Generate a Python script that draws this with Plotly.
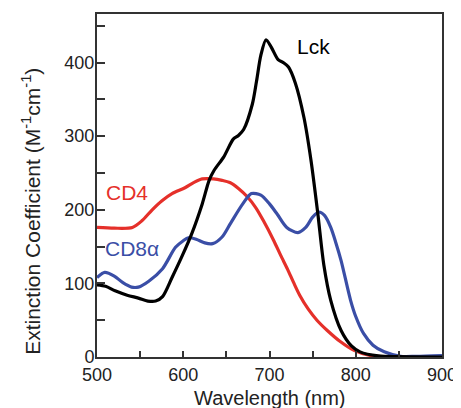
import plotly.graph_objects as go

# Lck (black)
lck_wl = [500, 510, 521, 535, 548, 559, 568, 576, 587, 599, 610, 622, 630, 636, 647, 658, 664, 670, 680, 685, 690, 696, 702, 710, 716, 722, 730, 740, 748, 756, 763, 771, 783, 795, 805, 826, 850, 900]
lck_val = [98, 96, 90, 84, 80, 76, 76, 82, 108, 138, 168, 208, 240, 254, 272, 296, 301, 309, 343, 375, 410, 431, 421, 404, 400, 394, 372, 325, 268, 195, 125, 77, 36, 15, 7, 1.5, 0.5, 0]

# CD4 (red)
cd4_wl = [500, 520, 541, 552, 564, 575, 587, 602, 612, 622, 635, 645, 654, 664, 674, 684, 693, 705, 713, 721, 728, 735, 745, 755, 767, 782, 798, 817, 840, 900]
cd4_val = [176, 175, 176, 185, 200, 212, 222, 230, 237, 242, 242, 240, 237, 229, 218, 203, 185, 158, 138, 119, 101, 84, 65, 50, 36, 21, 9, 2, 0, 0]

# CD8alpha (blue)
cd8_wl = [500, 509, 520, 530, 540, 548, 560, 576, 591, 600, 606, 615, 625, 634, 645, 655, 669, 679, 690, 700, 709, 720, 733, 742, 750, 757, 764, 771, 777, 783, 794, 800, 809, 820, 833, 852, 870, 900]
cd8_val = [108, 115, 110, 101, 95, 95, 103, 120, 149, 158, 162, 160, 155, 154, 163, 182, 208, 222, 220, 208, 194, 176, 169, 176, 190, 197, 192, 176, 155, 131, 77, 55, 32, 16, 7, 1, 1, 2]

x_tickvals = [500, 550, 600, 650, 700, 750, 800, 850, 900]
x_ticktext = ["500", "", "600", "", "700", "", "800", "", "900"]
y_tickvals = [0, 50, 100, 150, 200, 250, 300, 350, 400, 450]
y_ticktext = ["0", "", "100", "", "200", "", "300", "", "400", ""]

FONT = "Liberation Sans, Arial, sans-serif"
RED = "#e5302a"
BLUE = "#3a4ea6"
BLACK = "#000000"
TXT = "#222222"

fig = go.Figure()
for wl, val, col in [(cd4_wl, cd4_val, RED), (cd8_wl, cd8_val, BLUE), (lck_wl, lck_val, BLACK)]:
    fig.add_trace(go.Scatter(x=wl, y=val, mode="lines",
                             line=dict(color=col, width=3.2, shape="spline", smoothing=0.8),
                             showlegend=False, hoverinfo="skip"))

axis_common = dict(
    showline=True, linecolor="#333333", linewidth=2, mirror=True,
    ticks="inside", tickcolor="#333333", tickwidth=2,
    showgrid=False, zeroline=False,
    tickfont=dict(family=FONT, size=18, color=TXT),
)

# page body has an 8px default margin, so the figure is 8px smaller and offset
fig.update_layout(
    width=453, height=400,
    margin=dict(l=89, r=19, t=4, b=51),
    paper_bgcolor="white", plot_bgcolor="white",
    xaxis=dict(range=[500, 900], tickvals=x_tickvals, ticktext=x_ticktext, ticklen=6,
               **axis_common),
    yaxis=dict(range=[0, 466], tickvals=y_tickvals, ticktext=y_ticktext, ticklen=8,
               ticklabelstandoff=-3, **axis_common),
    annotations=[
        dict(text="Lck", x=751, y=422, xref="x", yref="y", showarrow=False,
             font=dict(family=FONT, size=21, color=BLACK)),
        dict(text="CD4", x=535, y=223, xref="x", yref="y", showarrow=False,
             font=dict(family=FONT, size=21, color=RED)),
        dict(text="CD8α", x=541, y=148, xref="x", yref="y", showarrow=False,
             font=dict(family=FONT, size=21, color=BLUE)),
        dict(text="Wavelength (nm)", x=0.5, y=-(398 - 357) / 345, xref="paper", yref="paper",
             xanchor="center", yanchor="middle", showarrow=False,
             font=dict(family=FONT, size=20, color=TXT)),
        dict(text="Extinction Coefficient (M<sup>-1</sup>cm<sup>-1</sup>)", textangle=-90,
             x=-(97 - 31) / 345, y=(357 - 211) / 345, xref="paper", yref="paper",
             xanchor="center", yanchor="middle", showarrow=False,
             font=dict(family=FONT, size=21, color=TXT)),
    ],
)

fig.write_html("out.html")
